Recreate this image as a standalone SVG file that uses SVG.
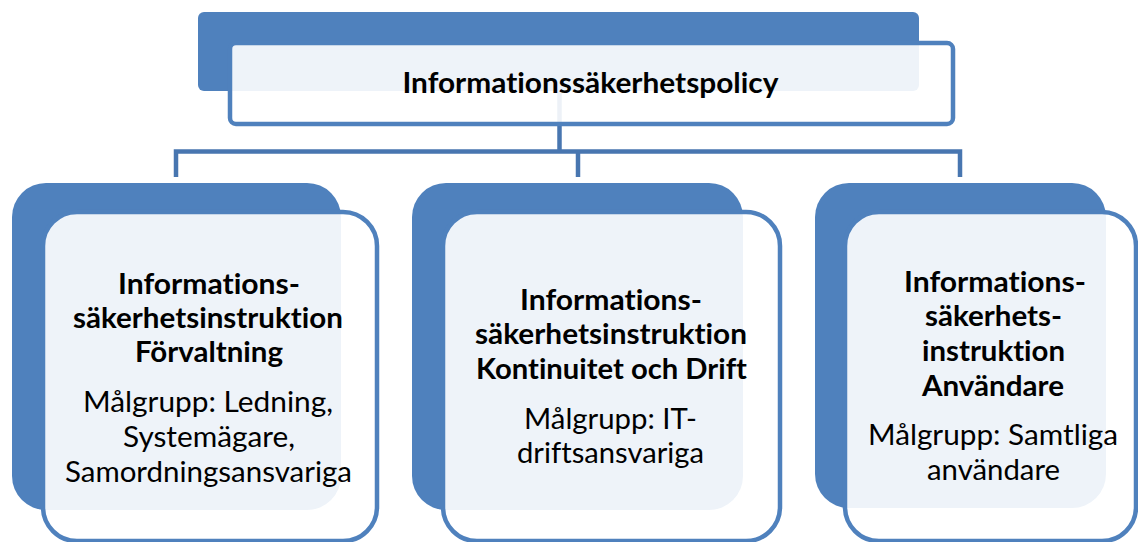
<svg xmlns="http://www.w3.org/2000/svg" width="1138" height="542" viewBox="0 0 1138 542">
<style>
.back{fill:#4F81BD;}
.front{fill:#FFFFFF;fill-opacity:0.9;stroke:#4F81BD;stroke-width:4.5;}
.conn{fill:none;stroke:#4876B0;stroke-width:4.5;stroke-linejoin:miter;}
.b{font-family:Lato,"Liberation Sans",sans-serif;font-weight:bold;font-size:28px;fill:#000;text-anchor:middle;font-variant-ligatures:none;}
.r{font-family:Lato,"Liberation Sans",sans-serif;font-weight:normal;font-size:28px;fill:#000;text-anchor:middle;font-variant-ligatures:none;}
</style>
<rect width="1138" height="542" fill="#FFFFFF"/>
<g id="node-policy-back">
<rect class="back" x="198" y="12" width="721" height="79" rx="6"/>
</g>
<g id="connectors">
<path class="conn" d="M559.5,91 V151.5"/>
<path class="conn" d="M176,177 V151.5 H960 V177"/>
<path class="conn" d="M578,151.5 V177"/>
</g>
<g id="node-policy">
<rect class="front" x="230" y="43" width="723" height="81" rx="6"/>
<text class="b" x="590.5" y="93" textLength="376" lengthAdjust="spacingAndGlyphs">Informationssäkerhetspolicy</text>
</g>
<g id="node-forvaltning">
<rect class="back" x="12" y="183" width="329" height="327" rx="34"/>
<rect class="front" x="43" y="212" width="334" height="329" rx="34"/>
<text class="b" x="209" y="294" textLength="182" lengthAdjust="spacingAndGlyphs">Informations-</text>
<text class="b" x="208" y="328" textLength="270" lengthAdjust="spacingAndGlyphs">säkerhetsinstruktion</text>
<text class="b" x="209" y="362" textLength="148" lengthAdjust="spacingAndGlyphs">Förvaltning</text>
<text class="r" x="208" y="412" textLength="250" lengthAdjust="spacingAndGlyphs">Målgrupp: Ledning,</text>
<text class="r" x="209" y="447" textLength="172" lengthAdjust="spacingAndGlyphs">Systemägare,</text>
<text class="r" x="208.5" y="482" textLength="287" lengthAdjust="spacingAndGlyphs">Samordningsansvariga</text>
</g>
<g id="node-drift">
<rect class="back" x="412" y="183" width="331" height="327" rx="34"/>
<rect class="front" x="443" y="212" width="337" height="329" rx="34"/>
<text class="b" x="611" y="310" textLength="182" lengthAdjust="spacingAndGlyphs">Informations-</text>
<text class="b" x="611" y="344" textLength="272" lengthAdjust="spacingAndGlyphs">säkerhetsinstruktion</text>
<text class="b" x="611.5" y="379" textLength="271" lengthAdjust="spacingAndGlyphs">Kontinuitet och Drift</text>
<text class="r" x="610.5" y="429" textLength="173" lengthAdjust="spacingAndGlyphs">Målgrupp: IT-</text>
<text class="r" x="610.5" y="463" textLength="187" lengthAdjust="spacingAndGlyphs">driftsansvariga</text>
</g>
<g id="node-anvandare">
<rect class="back" x="815" y="183" width="291" height="325" rx="34"/>
<rect class="front" x="845" y="212" width="291" height="329" rx="34"/>
<text class="b" x="995" y="292" textLength="182" lengthAdjust="spacingAndGlyphs">Informations-</text>
<text class="b" x="993.5" y="326" textLength="137" lengthAdjust="spacingAndGlyphs">säkerhets-</text>
<text class="b" x="993.5" y="361" textLength="143" lengthAdjust="spacingAndGlyphs">instruktion</text>
<text class="b" x="993" y="396" textLength="142" lengthAdjust="spacingAndGlyphs">Användare</text>
<text class="r" x="993" y="445" textLength="250" lengthAdjust="spacingAndGlyphs">Målgrupp: Samtliga</text>
<text class="r" x="993.5" y="480" textLength="133" lengthAdjust="spacingAndGlyphs">användare</text>
</g>
</svg>
